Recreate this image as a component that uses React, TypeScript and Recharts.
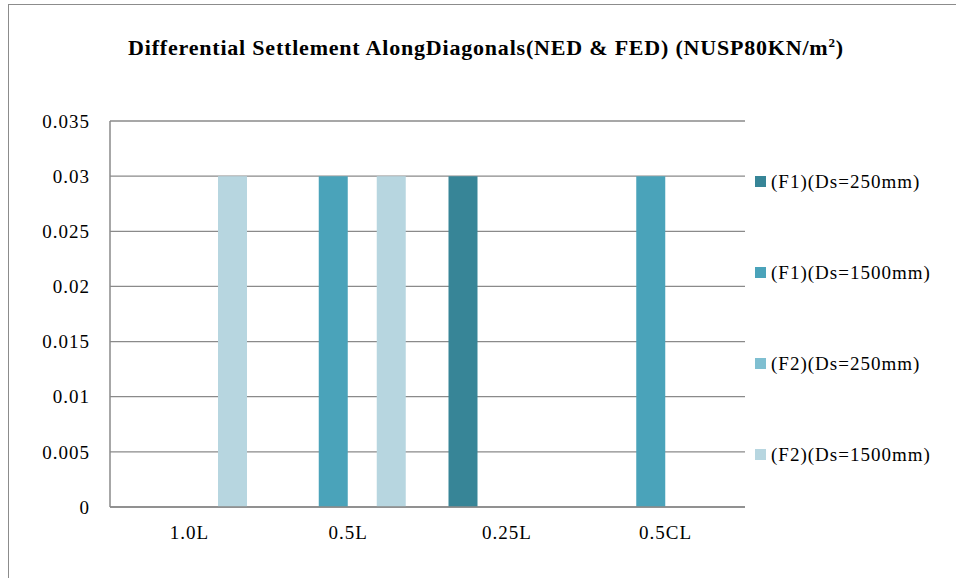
import React from "react";
import { BarChart, Bar, XAxis, YAxis, CartesianGrid } from "recharts";

// categories along the diagonal
const categories = ["1.0L", "0.5L", "0.25L", "0.5CL"];

// series values (differential settlement)
const f1Ds250 = [0, 0, 0.03, 0];
const f1Ds1500 = [0, 0.03, 0, 0.03];
const f2Ds250 = [0, 0, 0, 0];
const f2Ds1500 = [0.03, 0.03, 0, 0];

const yTicks = [0, 0.005, 0.01, 0.015, 0.02, 0.025, 0.03, 0.035];

const seriesNames = [
  "(F1)(Ds=250mm)",
  "(F1)(Ds=1500mm)",
  "(F2)(Ds=250mm)",
  "(F2)(Ds=1500mm)",
];
const seriesColors = ["#378597", "#4AA3BA", "#7FBFD1", "#B7D6E0"];

const data = categories.map((c, i) => ({
  name: c,
  s0: f1Ds250[i],
  s1: f1Ds1500[i],
  s2: f2Ds250[i],
  s3: f2Ds1500[i],
}));

const FONT = "'Liberation Serif', 'Times New Roman', serif";
const tickStyle = {
  fill: "#000",
  fontFamily: FONT,
  fontSize: 19,
  letterSpacing: 1,
};

// legend drawn beside the plot, Excel style
const LegendBox = () => (
  <div
    style={{
      position: "absolute",
      left: 755,
      top: 136,
      fontFamily: FONT,
      fontSize: 19,
      letterSpacing: 1,
      color: "#000",
    }}
  >
    {seriesNames.map((n, i) => (
      <div key={n} style={{ display: "flex", alignItems: "center", height: 91 }}>
        <span
          style={{
            display: "inline-block",
            width: 11,
            height: 11,
            background: seriesColors[i],
            marginRight: 5,
          }}
        />
        <span>{n}</span>
      </div>
    ))}
  </div>
);

const App = () => {
  return (
    <div
      style={{
        position: "absolute",
        left: 0,
        top: 0,
        width: 956,
        height: 578,
        overflow: "hidden",
        background: "#fff",
      }}
    >
      <div
        style={{
          position: "absolute",
          left: 8,
          top: 4,
          width: 1000,
          height: 700,
          border: "1.5px solid #8c8c8c",
        }}
      />
      <div
        style={{
          position: "absolute",
          left: 0,
          top: 34,
          width: 972,
          textAlign: "center",
          fontFamily: FONT,
          fontWeight: "bold",
          fontSize: 22,
          letterSpacing: 0.8,
          lineHeight: "28px",
          whiteSpace: "nowrap",
        }}
      >
        Differential Settlement AlongDiagonals(NED &amp; FED) (NUSP80KN/m
        <sup style={{ fontSize: 13, lineHeight: 0 }}>2</sup>)
      </div>
      <div style={{ position: "absolute", left: 0, top: 0 }}>
        <BarChart
          width={956}
          height={578}
          data={data}
          margin={{ top: 121, right: 211, bottom: 41, left: 50 }}
          barSize={29}
          barGap={0}
        >
          <CartesianGrid vertical={false} stroke="#8a8a8a" strokeWidth={1.3} />
          <XAxis
            dataKey="name"
            height={30}
            stroke="#8a8a8a"
            strokeWidth={1.5}
            tickLine={false}
            tickSize={0}
            tickMargin={19}
            tick={tickStyle}
          />
          <YAxis
            width={60}
            domain={[0, 0.035]}
            ticks={yTicks}
            stroke="#8a8a8a"
            strokeWidth={1.5}
            tickLine={false}
            tickSize={0}
            tickMargin={20}
            tick={tickStyle}
          />
          {seriesNames.map((n, i) => (
            <Bar
              key={n}
              dataKey={"s" + i}
              name={n}
              fill={seriesColors[i]}
              isAnimationActive={false}
            />
          ))}
        </BarChart>
      </div>
      <LegendBox />
    </div>
  );
};

export default App;
